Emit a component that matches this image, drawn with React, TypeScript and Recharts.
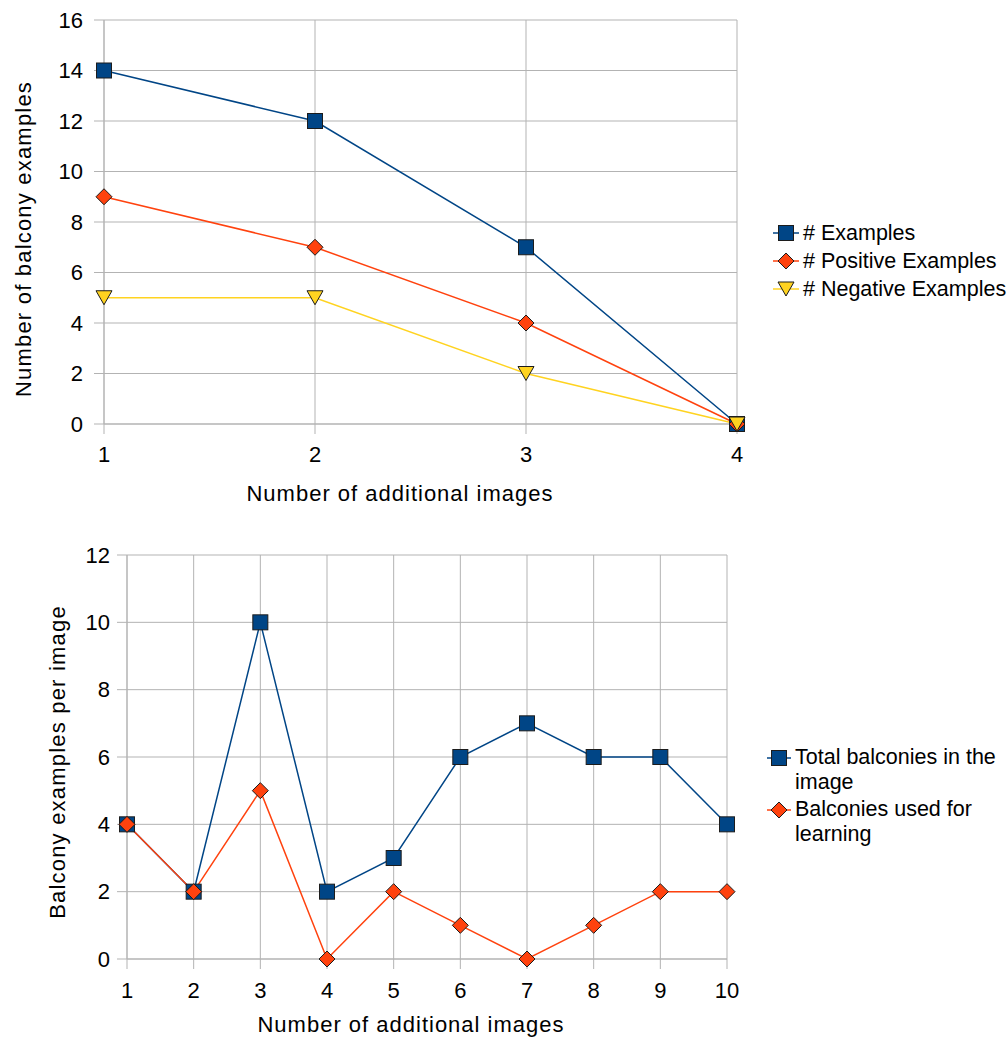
import React from "react"
import { LineChart, Line, XAxis, YAxis, CartesianGrid } from "recharts"

// top chart
const imagesA = [1, 2, 3, 4]
const examples = [14, 12, 7, 0]
const positives = [9, 7, 4, 0]
const negatives = [5, 5, 2, 0]
const yTicksA = [0, 2, 4, 6, 8, 10, 12, 14, 16]

// bottom chart
const imagesB = [1, 2, 3, 4, 5, 6, 7, 8, 9, 10]
const totalBalconies = [4, 2, 10, 2, 3, 6, 7, 6, 6, 4]
const usedBalconies = [4, 2, 5, 0, 2, 1, 0, 1, 2, 2]
const yTicksB = [0, 2, 4, 6, 8, 10, 12]

const BLUE = "#004586"
const RED = "#ff420e"
const YELLOW = "#ffd320"
const GRID = "#b3b3b3"
const FONT = "'Liberation Sans', Arial, sans-serif"

const dataA = imagesA.map((x, i) => ({
  x,
  examples: examples[i],
  positives: positives[i],
  negatives: negatives[i],
}))

const dataB = imagesB.map((x, i) => ({
  x,
  total: totalBalconies[i],
  used: usedBalconies[i],
}))

type Shape = "square" | "diamond" | "triangle"

const Marker = ({ cx, cy, shape, color }: { cx: number; cy: number; shape: Shape; color: string }) => {
  if (shape === "square") {
    return <rect x={cx - 7.5} y={cy - 7.5} width={15} height={15} fill={color} stroke="#1c1c1c" strokeWidth={1} />
  }
  if (shape === "diamond") {
    return (
      <polygon
        points={`${cx},${cy - 8} ${cx + 8},${cy} ${cx},${cy + 8} ${cx - 8},${cy}`}
        fill={color}
        stroke="#1c1c1c"
        strokeWidth={1}
      />
    )
  }
  return (
    <polygon
      points={`${cx - 8},${cy - 7} ${cx + 8},${cy - 7} ${cx},${cy + 7}`}
      fill={color}
      stroke="#1c1c1c"
      strokeWidth={1}
    />
  )
}

const dot = (shape: Shape, color: string) => (props: any) => {
  const { cx, cy, index } = props
  if (cx == null || cy == null) return <g key={`d-${index}`} />
  return (
    <g key={`d-${shape}-${index}`}>
      <Marker cx={cx} cy={cy} shape={shape} color={color} />
    </g>
  )
}

const LegendIcon = ({ shape, color, lineW }: { shape: Shape; color: string; lineW: number }) => (
  <svg width={lineW} height={18} style={{ flex: "none", display: "block" }}>
    <line x1={0} y1={9} x2={lineW} y2={9} stroke={color} strokeWidth={1.5} />
    <Marker cx={lineW / 2} cy={9} shape={shape} color={color} />
  </svg>
)

const seriesA = [
  { key: "examples", name: "# Examples", color: BLUE, shape: "square" as Shape },
  { key: "positives", name: "# Positive Examples", color: RED, shape: "diamond" as Shape },
  { key: "negatives", name: "# Negative Examples", color: YELLOW, shape: "triangle" as Shape },
]

const seriesB = [
  { key: "total", name: "Total balconies in the image", color: BLUE, shape: "square" as Shape },
  { key: "used", name: "Balconies used for learning", color: RED, shape: "diamond" as Shape },
]

const tickStyle = { fill: "#000", fontSize: 22, fontFamily: FONT }

const xTitle = (text: string, cx: number, baseline: number) => () => (
  <text
    x={cx}
    y={baseline}
    textAnchor="middle"
    fontSize={22}
    fontFamily={FONT}
    fill="#000"
    style={{ letterSpacing: 1 }}
  >
    {text}
  </text>
)

const yTitle = (text: string, x: number, cy: number) => () => (
  <text
    x={x}
    y={cy}
    textAnchor="middle"
    dominantBaseline="central"
    transform={`rotate(-90 ${x} ${cy})`}
    fontSize={22}
    fontFamily={FONT}
    fill="#000"
    style={{ letterSpacing: 1.2 }}
  >
    {text}
  </text>
)

export default function App() {
  return (
    <div style={{ position: "absolute", left: 0, top: 0, width: 1008, height: 1039, background: "#fff", fontFamily: FONT }}>
      <div style={{ position: "absolute", left: 0, top: 0 }}>
        <LineChart width={1008} height={520} data={dataA} margin={{ top: 20, right: 271, bottom: 16, left: 0 }}>
          <CartesianGrid stroke={GRID} strokeWidth={1} />
          <XAxis
            dataKey="x"
            type="number"
            domain={[1, 4]}
            ticks={imagesA}
            height={80}
            tickSize={10}
            tickMargin={12}
            stroke={GRID}
            tick={tickStyle}
            label={xTitle("Number of additional images", 400, 501)}
          />
          <YAxis
            type="number"
            domain={[0, 16]}
            ticks={yTicksA}
            width={104}
            tickSize={10}
            tickMargin={11}
            stroke={GRID}
            tick={tickStyle}
            label={yTitle("Number of balcony examples", 23, 239)}
          />
          {seriesA.map((s) => (
            <Line
              key={s.key}
              dataKey={s.key}
              name={s.name}
              stroke={s.color}
              strokeWidth={1.5}
              dot={dot(s.shape, s.color)}
              activeDot={false}
              isAnimationActive={false}
            />
          ))}
        </LineChart>
      </div>

      <div style={{ position: "absolute", left: 773, top: 219, fontSize: 21.5, color: "#000" }}>
        {seriesA.map((s) => (
          <div key={s.key} style={{ display: "flex", alignItems: "center", height: 28, whiteSpace: "nowrap" }}>
            <LegendIcon shape={s.shape} color={s.color} lineW={26} />
            <span style={{ marginLeft: 4 }}>{s.name}</span>
          </div>
        ))}
      </div>

      <div style={{ position: "absolute", left: 0, top: 520 }}>
        <LineChart width={1008} height={519} data={dataB} margin={{ top: 35, right: 281, bottom: 4, left: 0 }}>
          <CartesianGrid stroke={GRID} strokeWidth={1} />
          <XAxis
            dataKey="x"
            type="number"
            domain={[1, 10]}
            ticks={imagesB}
            height={76}
            tickSize={10}
            tickMargin={13}
            stroke={GRID}
            tick={tickStyle}
            label={xTitle("Number of additional images", 411, 512)}
          />
          <YAxis
            type="number"
            domain={[0, 12]}
            ticks={yTicksB}
            width={127}
            tickSize={10}
            tickMargin={7}
            stroke={GRID}
            tick={tickStyle}
            label={yTitle("Balcony examples per image", 57, 242)}
          />
          {seriesB.map((s) => (
            <Line
              key={s.key}
              dataKey={s.key}
              name={s.name}
              stroke={s.color}
              strokeWidth={1.5}
              dot={dot(s.shape, s.color)}
              activeDot={false}
              isAnimationActive={false}
            />
          ))}
        </LineChart>
      </div>

      <div style={{ position: "absolute", left: 767, top: 745, fontSize: 21.5, lineHeight: "25px", color: "#000" }}>
        {seriesB.map((s) => (
          <div key={s.key} style={{ display: "flex", alignItems: "flex-start", marginBottom: 2 }}>
            <div style={{ height: 25, display: "flex", alignItems: "center" }}>
              <LegendIcon shape={s.shape} color={s.color} lineW={24} />
            </div>
            <span style={{ marginLeft: 4, width: 212 }}>{s.name}</span>
          </div>
        ))}
      </div>
    </div>
  )
}
